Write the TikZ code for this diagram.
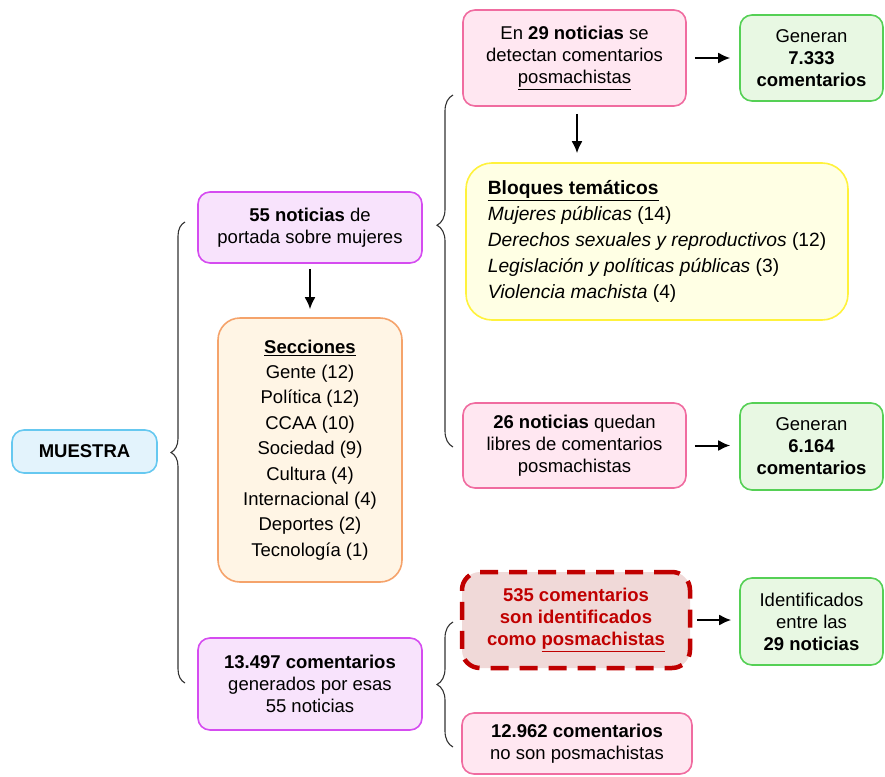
\documentclass[tikz,border=0pt]{standalone}
\usepackage{fontspec}
\setmainfont{Liberation Sans}
\usetikzlibrary{arrows.meta,decorations.pathreplacing}

\definecolor{muestraFill}{HTML}{E3F3FC}
\definecolor{muestraDraw}{HTML}{66C8F0}
\definecolor{violetFill}{HTML}{F8E3FC}
\definecolor{violetDraw}{HTML}{D54CF0}
\definecolor{orangeFill}{HTML}{FFF5E5}
\definecolor{orangeDraw}{HTML}{F5A36B}
\definecolor{pinkFill}{HTML}{FFE7F1}
\definecolor{pinkDraw}{HTML}{F06CA0}
\definecolor{greenFill}{HTML}{E8F8E3}
\definecolor{greenDraw}{HTML}{55D055}
\definecolor{yellowFill}{HTML}{FFFFE4}
\definecolor{yellowDraw}{HTML}{FFF23C}
\definecolor{redFill}{HTML}{F0D9D8}
\definecolor{redDraw}{HTML}{C00000}
\definecolor{braceGray}{HTML}{333333}

\begin{document}
\begin{tikzpicture}[x=1pt,y=-1pt,
   every node/.style={align=center,rounded corners=12pt,line width=1.6pt,
      inner sep=3pt,font=\fontsize{18.5}{22}\selectfont},
   blue box/.style={draw=muestraDraw,fill=muestraFill},
   violet box/.style={draw=violetDraw,fill=violetFill},
   orange box/.style={draw=orangeDraw,fill=orangeFill,rounded corners=22pt,
      font=\fontsize{18.5}{25.4}\selectfont},
   pink box/.style={draw=pinkDraw,fill=pinkFill},
   green box/.style={draw=greenDraw,fill=greenFill},
   yellow box/.style={draw=yellowDraw,fill=yellowFill,rounded corners=26pt,
      align=left,font=\fontsize{19.2}{25.8}\selectfont},
   red box/.style={draw=redDraw,fill=redFill,line width=4.5pt,rounded corners=18pt,
      dash pattern=on 18pt off 11pt,text=redDraw},
   arr/.style={-{Latex[length=12pt,width=11pt]},line width=2pt},
   brc/.style={decorate,decoration={brace,amplitude=#1},line width=1.1pt,draw=braceGray},
   brc/.default=14pt]

\useasboundingbox (0,0) rectangle (885,776);

% left column
\node[blue box,minimum width=145pt,minimum height=43pt] (muestra) at (84.5,451.5)
   {\textbf{MUESTRA}};
\node[violet box,minimum width=224pt,minimum height=71pt] (noticias) at (310,227.5)
   {\textbf{55 noticias} de\\portada sobre mujeres};
\node[orange box,minimum width=184pt,minimum height=264pt] (secciones) at (310,450)
   {\textbf{\underline{Secciones}}\\Gente (12)\\Política (12)\\CCAA (10)\\Sociedad (9)\\
    Cultura (4)\\Internacional (4)\\Deportes (2)\\Tecnología (1)};
\node[violet box,minimum width=224pt,minimum height=92pt] (comentarios) at (310,684)
   {\textbf{13.497 comentarios}\\generados por esas\\55 noticias};

% right column
\node[pink box,minimum width=223pt,minimum height=96pt] (con) at (574.5,58)
   {En \textbf{29 noticias} se\\detectan comentarios\\\underline{posmachistas}};
\node[green box,minimum width=143pt,minimum height=86pt] (genA) at (811.5,58)
   {Generan\\\textbf{7.333}\\\textbf{comentarios}};
\node[yellow box,minimum width=382pt,minimum height=157pt] (bloques) at (657,241.5)
   {\textbf{\underline{Bloques temáticos}}\\
    \textit{Mujeres públicas} (14)\\
    \textit{Derechos sexuales y reproductivos} (12)\\
    \textit{Legislación y políticas públicas} (3)\\
    \textit{Violencia machista} (4)};
\node[pink box,minimum width=223pt,minimum height=85pt] (sin) at (574.5,445.5)
   {\textbf{26 noticias} quedan\\libres de comentarios\\posmachistas};
\node[green box,minimum width=143pt,minimum height=87pt] (genB) at (811.5,446.5)
   {Generan\\\textbf{6.164}\\\textbf{comentarios}};
\node[red box,minimum width=228pt,minimum height=96pt] (machistas) at (576,620)
   {\textbf{535 comentarios}\\\textbf{son identificados}\\\textbf{como \underline{posmachistas}}};
\node[green box,minimum width=143pt,minimum height=87pt] (ident) at (811.5,621.5)
   {Identificados\\entre las\\\textbf{29 noticias}};
\node[pink box,minimum width=230pt,minimum height=61pt] (resto) at (577,743.5)
   {\textbf{12.962 comentarios}\\no son posmachistas};

% braces
\coordinate (bigTop) at (185,222);
\coordinate (bigBot) at (185,683);
\coordinate (upTop) at (453,95);
\coordinate (upBot) at (453,447);
\coordinate (lowTop) at (453,622);
\coordinate (lowBot) at (453,747);
\draw[brc] (bigBot) -- (bigTop);
\draw[brc=16pt,decoration={aspect=0.63}] (upBot) -- (upTop);
\draw[brc=16pt] (lowBot) -- (lowTop);

% arrows
\draw[arr,shorten <=5pt,shorten >=8pt] (noticias.south) -- (secciones.north);
\draw[arr,shorten <=7pt,shorten >=9pt] ([xshift=2.5pt]con.south) -- ([xshift=2.5pt]con.south |- bloques.north);
\draw[arr,shorten <=8pt,shorten >=9pt] (con.east) -- (genA.west);
\draw[arr,shorten <=8pt,shorten >=9pt] (sin.east) -- (sin.east -| genB.west);
\draw[arr,shorten <=5pt,shorten >=8pt] (machistas.east) -- (machistas.east -| ident.west);

\end{tikzpicture}
\end{document}
